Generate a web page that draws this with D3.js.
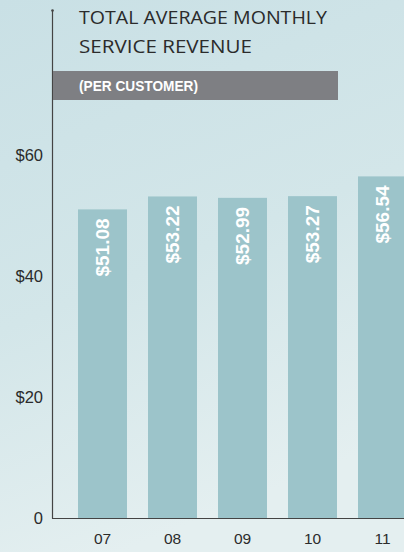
<!DOCTYPE html>
<html>
<head>
<meta charset="utf-8">
<script src="https://cdn.jsdelivr.net/npm/d3@7"></script>
<style>
  html, body { margin: 0; padding: 0; }
  body { width: 404px; height: 552px; overflow: hidden; }
</style>
</head>
<body>
<div id="chart"></div>
<script>
var W = 404, H = 552;

// data
var years = ["07", "08", "09", "10", "11"];
var revenue = [51.08, 53.22, 52.99, 53.27, 56.54];
var yTicks = [0, 20, 40, 60];
var titleLines = ["TOTAL AVERAGE MONTHLY", "SERVICE REVENUE"];
var subtitle = "(PER CUSTOMER)";

var barColor = "#9cc4ca";
var axisColor = "#444444";
var textColor = "#2b2b2b";

var svg = d3.select("#chart").append("svg")
	.attr("width", W)
	.attr("height", H);

//////// background
var defs = svg.append("defs");
var grad = defs.append("linearGradient")
	.attr("id", "bg")
	.attr("x1", 0).attr("y1", 0).attr("x2", 0.3).attr("y2", 1);
grad.append("stop").attr("offset", "0%").attr("stop-color", "#c9e0e5");
grad.append("stop").attr("offset", "55%").attr("stop-color", "#d3e6e9");
grad.append("stop").attr("offset", "100%").attr("stop-color", "#e4eff0");

svg.append("rect")
	.attr("width", W)
	.attr("height", H)
	.attr("fill", "url(#bg)");

//////// scales
var x = d3.scaleBand()
	.domain(years)
	.range([57, 428])
	.paddingInner(0.3)
	.paddingOuter(0.3);

var y = d3.scaleLinear()
	.domain([0, 60])
	.range([518, 155.5]);

//////// bars
var bars = svg.append("g").attr("class", "bars");

bars.selectAll("rect")
	.data(revenue)
	.join("rect")
	.attr("x", (d, i) => x(years[i]))
	.attr("y", d => y(d))
	.attr("width", x.bandwidth())
	.attr("height", d => y(0) - y(d))
	.attr("fill", barColor);

bars.selectAll("text")
	.data(revenue)
	.join("text")
	.attr("transform", (d, i) => "translate(" + (x(years[i]) + x.bandwidth() / 2) + "," + (y(d) + 9) + ") rotate(-90)")
	.attr("dy", "0.36em")
	.attr("text-anchor", "end")
	.attr("fill", "#ffffff")
	.style("font-family", "'Liberation Sans', Arial, sans-serif")
	.style("font-weight", "bold")
	.style("font-size", "19px")
	.text(d => "$" + d.toFixed(2));

//////// axes
var yAxis = d3.axisLeft(y)
	.tickValues(yTicks)
	.tickSize(0)
	.tickPadding(9)
	.tickFormat(d => d === 0 ? "0" : "$" + d);

var gy = svg.append("g")
	.attr("transform", "translate(52,0)")
	.call(yAxis);
gy.select(".domain").remove();
gy.selectAll("text")
	.attr("fill", textColor)
	.style("font-family", "'Liberation Sans', Arial, sans-serif")
	.style("font-size", "16.5px");

var xAxis = d3.axisBottom(x)
	.tickSize(0)
	.tickPadding(15);

var gx = svg.append("g")
	.attr("transform", "translate(0,518)")
	.call(xAxis);
gx.select(".domain").remove();
gx.selectAll("text")
	.attr("fill", textColor)
	.style("font-family", "'Liberation Sans', Arial, sans-serif")
	.style("font-size", "15.5px");

// axis lines
svg.append("line")
	.attr("x1", 52.5).attr("x2", 52.5)
	.attr("y1", 10).attr("y2", 518.5)
	.attr("stroke", axisColor)
	.attr("stroke-width", 1.2);
svg.append("circle")
	.attr("cx", 52.5).attr("cy", 10.5).attr("r", 1.3)
	.attr("fill", axisColor);
svg.append("line")
	.attr("x1", 52).attr("x2", W)
	.attr("y1", 518.5).attr("y2", 518.5)
	.attr("stroke", axisColor)
	.attr("stroke-width", 1.2);

//////// title
var titleWidths = [248, 173];
svg.selectAll(".title")
	.data(titleLines)
	.join("text")
	.attr("class", "title")
	.attr("x", 79)
	.attr("y", (d, i) => 23.5 + i * 29)
	.attr("textLength", (d, i) => titleWidths[i])
	.attr("lengthAdjust", "spacingAndGlyphs")
	.attr("fill", textColor)
	.style("font-family", "'Open Sans', sans-serif")
	.style("font-size", "19px")
	.text(d => d);

svg.append("rect")
	.attr("x", 53)
	.attr("y", 71)
	.attr("width", 285)
	.attr("height", 29)
	.attr("fill", "#7e7f83");

svg.append("text")
	.attr("x", 79)
	.attr("y", 90.5)
	.attr("textLength", 119)
	.attr("lengthAdjust", "spacingAndGlyphs")
	.attr("fill", "#ffffff")
	.style("font-family", "'Liberation Sans', Arial, sans-serif")
	.style("font-weight", "bold")
	.style("font-size", "15px")
	.text(subtitle);
</script>
</body>
</html>
